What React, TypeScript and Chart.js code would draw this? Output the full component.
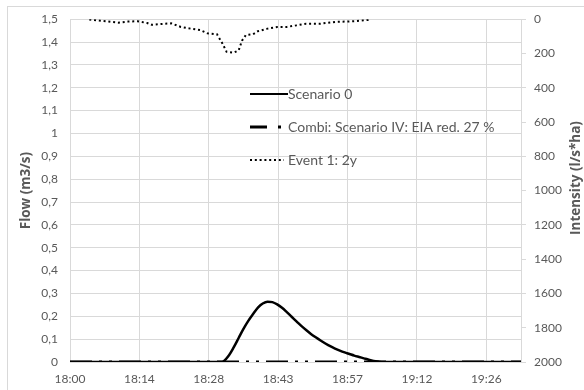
import { useEffect, useRef } from "react";
import { Chart, registerables } from "chart.js";

Chart.register(...registerables);

const FONT = "Lato, 'Open Sans', sans-serif";
const TITLE_FONT = "'Open Sans', 'Noto Sans', sans-serif";
const TEXT = "#595959";
const GRID = "#d9d9d9";

// Time axis: minutes after 18:00
const X_MAX = 93.6;
const xTickMinutes = [0, 14.4, 28.8, 43.2, 57.6, 72, 86.4];
const xTickLabels = ["18:00", "18:14", "18:28", "18:43", "18:57", "19:12", "19:26"];

const flowTicks = [0, 0.1, 0.2, 0.3, 0.4, 0.5, 0.6, 0.7, 0.8, 0.9, 1, 1.1, 1.2, 1.3, 1.4, 1.5];
const flowTickLabels = ["0", "0,1", "0,2", "0,3", "0,4", "0,5", "0,6", "0,7", "0,8", "0,9", "1", "1,1", "1,2", "1,3", "1,4", "1,5"];
const intensityTicks = [0, 200, 400, 600, 800, 1000, 1200, 1400, 1600, 1800, 2000];

const scenario0Minutes = [0, 31.5, 33, 34, 35, 36, 37, 38, 39, 40, 41, 42, 43, 44, 45, 46, 47, 48, 49, 50, 51, 52, 53, 54, 55, 56, 57, 58, 59, 60, 61, 62, 63, 64, 65, 93.6];
const scenario0Flow = [0, 0, 0.03, 0.065, 0.105, 0.145, 0.18, 0.21, 0.238, 0.256, 0.264, 0.262, 0.252, 0.237, 0.218, 0.198, 0.178, 0.158, 0.14, 0.123, 0.108, 0.094, 0.081, 0.069, 0.059, 0.05, 0.042, 0.035, 0.028, 0.022, 0.016, 0.01, 0.005, 0.002, 0, 0];

const combiMinutes = [0, 93.6];
const combiFlow = [0, 0];

const eventMinutes = [4, 6, 8, 10, 12, 14, 16, 17, 19, 21, 23, 25, 27, 28.5, 30.5, 31.5, 32.5, 34, 35, 35.7, 36.5, 38, 39, 41, 43, 45, 47, 49, 52, 55, 59, 62];
const eventIntensity = [2, 8, 14, 20, 14, 12, 22, 33, 28, 24, 45, 55, 63, 82, 88, 135, 190, 195, 182, 125, 92, 88, 70, 55, 45, 45, 36, 26, 26, 16, 12, 4];

const toPoints = (xs: number[], ys: number[]) => xs.map((x, i) => ({ x, y: ys[i] }));

// legend sample strokes, one per dataset
const legendSamples = [
  { y: 94, dash: [] as number[], width: 2.2, end: 288 },
  { y: 127, dash: [17, 11, 3, 20], width: 3, end: 283 },
  { y: 160, dash: [2, 2.8], width: 2, end: 284 },
];

const decorPlugin = {
  id: "decor",
  beforeDraw(chart: any) {
    const ctx = chart.ctx;
    ctx.save();
    ctx.fillStyle = "#ffffff";
    ctx.fillRect(0, 0, chart.width, chart.height);
    ctx.strokeStyle = GRID;
    ctx.lineWidth = 1;
    ctx.strokeRect(7.5, 6.5, 700, 500);
    ctx.restore();
  },
  afterDraw(chart: any) {
    const ctx = chart.ctx;
    ctx.save();
    // right axis title, reading bottom to top
    ctx.font = `bold 13.5px ${TITLE_FONT}`;
    ctx.fillStyle = TEXT;
    ctx.textAlign = "center";
    ctx.textBaseline = "middle";
    ctx.translate(576, 178);
    ctx.rotate(-Math.PI / 2);
    ctx.fillText("Intensity (l/s*ha)", 0, 0);
    ctx.restore();

    // legend inside the plot
    ctx.save();
    chart.data.datasets.forEach((ds: any, i: number) => {
      const s = legendSamples[i];
      ctx.beginPath();
      ctx.strokeStyle = ds.borderColor;
      ctx.lineWidth = s.width;
      ctx.lineCap = "butt";
      ctx.setLineDash(s.dash);
      ctx.moveTo(250, s.y);
      ctx.lineTo(s.end, s.y);
      ctx.stroke();
      ctx.setLineDash([]);
      ctx.font = `14px ${FONT}`;
      ctx.fillStyle = TEXT;
      ctx.textAlign = "left";
      ctx.textBaseline = "middle";
      ctx.fillText(ds.label, 288, s.y);
    });
    ctx.restore();
  },
};

export default function App() {
  const canvasRef = useRef<HTMLCanvasElement | null>(null);

  useEffect(() => {
    document.body.style.margin = "0";
    const canvas = canvasRef.current;
    if (!canvas) return;
    const chart = new Chart(canvas, {
      type: "line",
      data: {
        datasets: [
          {
            label: "Scenario 0",
            data: toPoints(scenario0Minutes, scenario0Flow),
            borderColor: "#000000",
            borderWidth: 2.5,
            pointRadius: 0,
            cubicInterpolationMode: "monotone",
            yAxisID: "y",
          },
          {
            label: "Combi: Scenario IV: EIA red. 27 %",
            data: toPoints(combiMinutes, combiFlow),
            borderColor: "#000000",
            borderWidth: 3,
            borderDash: [22, 7, 3, 7, 3, 7],
            pointRadius: 0,
            yAxisID: "y",
          },
          {
            label: "Event 1: 2y",
            data: toPoints(eventMinutes, eventIntensity),
            borderColor: "#000000",
            borderWidth: 2,
            borderDash: [2, 2.8],
            pointRadius: 0,
            yAxisID: "y2",
          },
        ],
      },
      options: {
        responsive: false,
        animation: false,
        layout: { padding: { top: 19, left: 0, right: 0, bottom: 0 } },
        plugins: { legend: { display: false }, tooltip: { enabled: false } },
        scales: {
          x: {
            type: "linear",
            min: 0,
            max: X_MAX,
            afterBuildTicks: (scale: any) => {
              scale.ticks = xTickMinutes.map((v) => ({ value: v }));
            },
            afterFit: (scale: any) => {
              scale.height = 28;
            },
            ticks: {
              autoSkip: false,
              maxRotation: 0,
              padding: 10,
              color: TEXT,
              font: { family: FONT, size: 12 },
              callback: (_v: any, i: number) => xTickLabels[i],
            },
            grid: { color: GRID, drawTicks: false },
            border: { display: false },
          },
          y: {
            position: "left",
            min: 0,
            max: 1.5,
            afterBuildTicks: (scale: any) => {
              scale.ticks = flowTicks.map((v) => ({ value: v }));
            },
            afterFit: (scale: any) => {
              scale.width = 70;
            },
            ticks: {
              padding: 12,
              color: TEXT,
              font: { family: FONT, size: 12 },
              callback: (_v: any, i: number) => flowTickLabels[i],
            },
            grid: { color: GRID, drawTicks: false },
            border: { display: false },
            title: {
              display: true,
              text: "Flow (m3/s)",
              color: TEXT,
              font: { family: TITLE_FONT, size: 13.5, weight: "bold" },
              padding: { top: 18.4, bottom: 0 },
            },
          },
          y2: {
            position: "right",
            min: 0,
            max: 2000,
            reverse: true,
            afterBuildTicks: (scale: any) => {
              scale.ticks = intensityTicks.map((v) => ({ value: v }));
            },
            afterFit: (scale: any) => {
              scale.width = 63;
            },
            ticks: {
              padding: 8,
              color: TEXT,
              font: { family: FONT, size: 12 },
              callback: (v: any) => String(v),
            },
            grid: { drawOnChartArea: false, color: GRID, tickLength: 5 },
            border: { display: true, color: GRID },
          },
        },
      },
      plugins: [decorPlugin],
    } as any);
    return () => chart.destroy();
  }, []);

  return (
    <div style={{ width: 584, height: 390 }}>
      <canvas ref={canvasRef} width={584} height={390} />
    </div>
  );
}
